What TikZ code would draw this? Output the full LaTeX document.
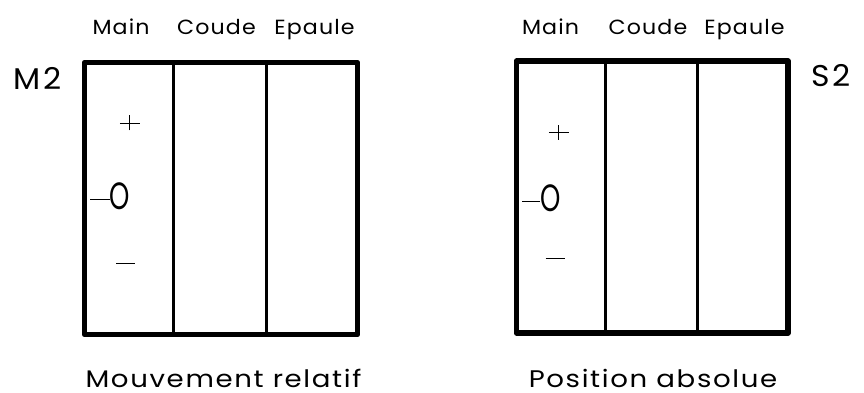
\documentclass[tikz,border=0pt]{standalone}
\usepackage{fontspec}
\setmainfont{Poppins}
\newcommand{\wide}[2]{\scalebox{#1}[1]{#2}}
\newcommand{\plussign}{\rule[7pt]{20pt}{0.9pt}\hspace{-10.45pt}\rule{0.9pt}{15pt}\hspace{9.55pt}}
\newcommand{\minussign}{\rule{19pt}{0.9pt}}
\begin{document}
\begin{tikzpicture}[x=1pt,y=-1pt,
  lbl/.style={inner sep=0pt, anchor=base, font=\fontsize{20.5}{22}\selectfont\addfontfeatures{LetterSpace=5}},
  biglbl/.style={inner sep=0pt, anchor=base, font=\fontsize{30}{32}\selectfont\addfontfeatures{LetterSpace=8}},
  captionlbl/.style={inner sep=0pt, anchor=base, font=\fontsize{24}{26}\selectfont\addfontfeatures{LetterSpace=6}},
  symlbl/.style={inner sep=0pt, font=\fontsize{38}{40}\selectfont},
  outerbox/.style={line width=5.5pt, line join=round},
  innerline/.style={line width=3pt}]
\useasboundingbox (0,0) rectangle (864,393);
% left panel
\draw[outerbox] (84.5,62.5) rectangle (357.5,334.5);
\coordinate (la1) at (173.5,62.5); \coordinate (lb1) at (173.5,334.5);
\coordinate (la2) at (266,62.5); \coordinate (lb2) at (266,334.5);
\draw[innerline] (la1) -- (lb1);
\draw[innerline] (la2) -- (lb2);
\node[lbl] (lmain) at (121,35) {\wide{1.08}{Main}};
\node[lbl] (lcoude) at (216.5,35) {\wide{1.08}{Coude}};
\node[lbl] (lepaule) at (314.5,35) {\wide{1.08}{Epaule}};
\node[biglbl] (m2) at (37.5,90) {\wide{1.05}{M2}};
\node[inner sep=0pt] (lplus) at (125,123) {\plussign};
\node[symlbl, anchor=west] (lzero) at (90,196) {\rule[0.25em]{0.52em}{0.9pt}\wide{0.68}{O}};
\node[inner sep=0pt] (lminus) at (125.5,263) {\minussign};
\node[captionlbl] (lcap) at (223.5,387) {\wide{1.15}{Mouvement relatif}};
% right panel
\draw[outerbox] (516.5,61) rectangle (788,333);
\coordinate (ra1) at (605,61); \coordinate (rb1) at (605,333);
\coordinate (ra2) at (697,61); \coordinate (rb2) at (697,333);
\draw[innerline] (ra1) -- (rb1);
\draw[innerline] (ra2) -- (rb2);
\node[lbl] (rmain) at (550.5,35) {\wide{1.08}{Main}};
\node[lbl] (rcoude) at (648,35) {\wide{1.08}{Coude}};
\node[lbl] (repaule) at (744.5,35) {\wide{1.08}{Epaule}};
\node[biglbl] (s2) at (831,87) {\wide{1.05}{S2}};
\node[inner sep=0pt] (rplus) at (554,132) {\plussign};
\node[symlbl, anchor=west] (rzero) at (522,198) {\rule[0.25em]{0.48em}{0.9pt}\wide{0.68}{O}};
\node[inner sep=0pt] (rminus) at (555,258) {\minussign};
\node[captionlbl] (rcap) at (653,387) {\wide{1.15}{Position absolue}};
\end{tikzpicture}
\end{document}
